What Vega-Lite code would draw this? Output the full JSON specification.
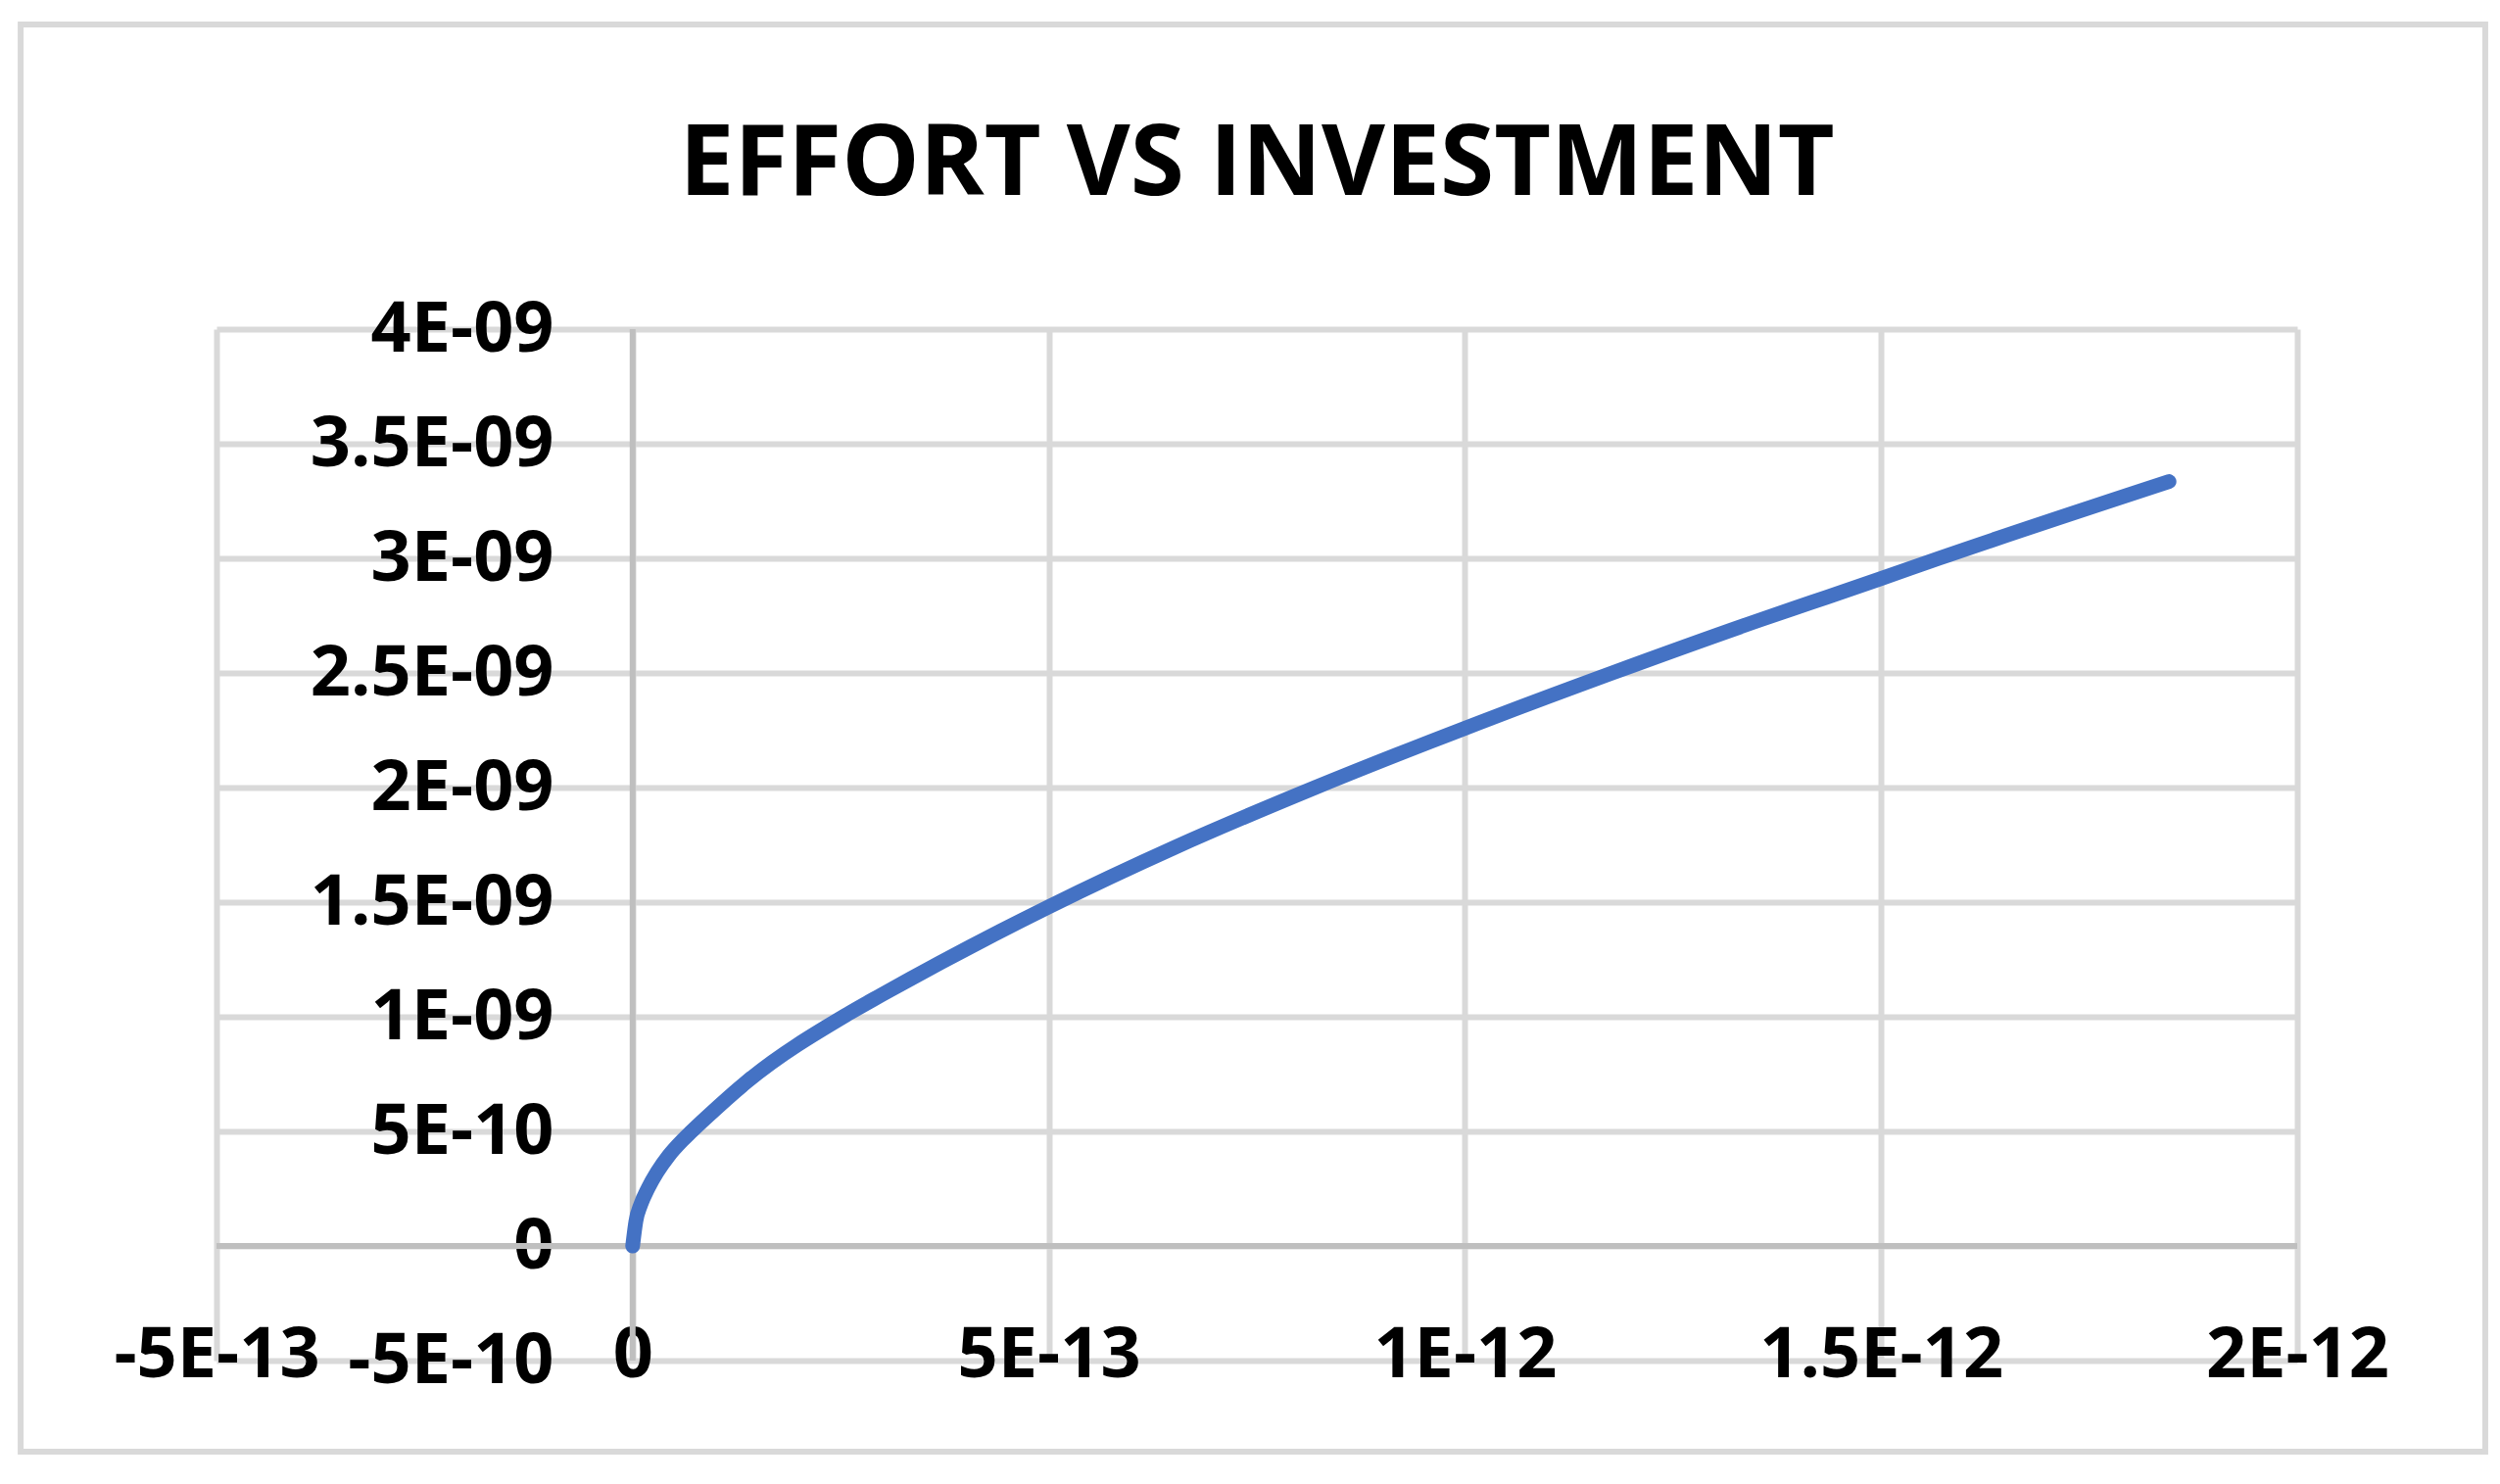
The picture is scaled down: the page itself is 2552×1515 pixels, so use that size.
{
  "$schema": "https://vega.github.io/schema/vega-lite/v6.json",
  "width": 2124,
  "height": 1053,
  "autosize": {"type": "none"},
  "padding": {"left": 221, "top": 336, "right": 207, "bottom": 126},
  "background": "#ffffff",
  "title": {
    "text": "EFFORT VS INVESTMENT",
    "font": "Open Sans",
    "fontSize": 100,
    "fontWeight": "bold",
    "color": "#000000",
    "anchor": "middle",
    "baseline": "alphabetic",
    "offset": -277
  },
  "config": {
    "view": {"stroke": null},
    "axis": {
      "grid": true,
      "gridColor": "#d9d9d9",
      "gridWidth": 6,
      "ticks": false,
      "domain": false,
      "labelFont": "Open Sans",
      "labelFontWeight": "bold",
      "labelFontSize": 72,
      "labelColor": "#000000",
      "labelLimit": 0,
      "labelOverlap": false,
      "labelFlush": false,
      "labelBound": false
    }
  },
  "data": {"name": "curve"},
  "datasets": {
    "curve": [
      {"investment": 0, "effort": 0},
      {"investment": 3.9e-15, "effort": 1.08e-10},
      {"investment": 9.8e-15, "effort": 1.81e-10},
      {"investment": 1.84e-14, "effort": 2.51e-10},
      {"investment": 2.94e-14, "effort": 3.22e-10},
      {"investment": 4.31e-14, "effort": 3.93e-10},
      {"investment": 5.96e-14, "effort": 4.6e-10},
      {"investment": 6.94e-14, "effort": 4.95e-10},
      {"investment": 8.9e-14, "effort": 5.62e-10},
      {"investment": 1.376e-13, "effort": 7.18e-10},
      {"investment": 2.576e-13, "effort": 1.01e-9},
      {"investment": 2.988e-13, "effort": 1.095e-9},
      {"investment": 5.0e-13, "effort": 1.48e-9},
      {"investment": 6.52e-13, "effort": 1.74e-9},
      {"investment": 8.2e-13, "effort": 2.0e-9},
      {"investment": 1.0e-12, "effort": 2.259e-9},
      {"investment": 1.177e-12, "effort": 2.5e-9},
      {"investment": 1.3576e-12, "effort": 2.735e-9},
      {"investment": 1.4165e-12, "effort": 2.808e-9},
      {"investment": 1.5e-12, "effort": 2.912e-9},
      {"investment": 1.5694e-12, "effort": 3.0e-9},
      {"investment": 1.846e-12, "effort": 3.335e-9}
    ],
    "frame": [{"left": -7.353e-13, "right": 2.2259e-12, "top": 5.329e-9, "bottom": -8.97e-10}],
    "origin": [{"zero": 0}]
  },
  "layer": [
    {
      "data": {"name": "frame"},
      "mark": {"type": "rect", "fill": null, "stroke": "#d9d9d9", "strokeWidth": 6, "clip": false},
      "encoding": {
        "x": {"field": "left", "type": "quantitative", "title": null},
        "x2": {"field": "right"},
        "y": {"field": "top", "type": "quantitative", "title": null},
        "y2": {"field": "bottom"}
      }
    },
    {
      "data": {"name": "origin"},
      "mark": {"type": "rule", "stroke": "#bfbfbf", "strokeWidth": 6},
      "encoding": {"x": {"field": "zero", "type": "quantitative", "title": null}}
    },
    {
      "data": {"name": "origin"},
      "mark": {"type": "rule", "stroke": "#bfbfbf", "strokeWidth": 6},
      "encoding": {"y": {"field": "zero", "type": "quantitative", "title": null}}
    },
    {
      "mark": {"type": "line", "color": "#4472c4", "strokeWidth": 15, "strokeCap": "round", "strokeJoin": "round", "interpolate": "monotone"},
      "encoding": {
        "x": {
          "field": "investment",
          "type": "quantitative",
          "scale": {"domain": [-5e-13, 2e-12], "nice": false, "zero": false},
          "axis": {
            "title": null,
            "orient": "bottom",
            "grid": true,
            "values": [-5e-13, 0, 5e-13, 1e-12, 1.5e-12, 2e-12],
            "labelExpr": "['-5E-13','0','5E-13','1E-12','1.5E-12','2E-12'][round(datum.value / 5e-13) + 1]",
            "labelBaseline": "alphabetic",
            "labelPadding": 16
          }
        },
        "y": {
          "field": "effort",
          "type": "quantitative",
          "scale": {"domain": [-5e-10, 4e-9], "nice": false, "zero": false},
          "axis": {
            "title": null,
            "orient": "left",
            "grid": true,
            "offset": -425,
            "values": [-5e-10, 0, 5e-10, 1e-9, 1.5e-9, 2e-9, 2.5e-9, 3e-9, 3.5e-9, 4e-9],
            "labelExpr": "['-5E-10','0','5E-10','1E-09','1.5E-09','2E-09','2.5E-09','3E-09','3.5E-09','4E-09'][round(datum.value / 5e-10) + 1]",
            "labelAlign": "right",
            "labelBaseline": "middle",
            "labelPadding": 81
          }
        }
      }
    }
  ]
}
